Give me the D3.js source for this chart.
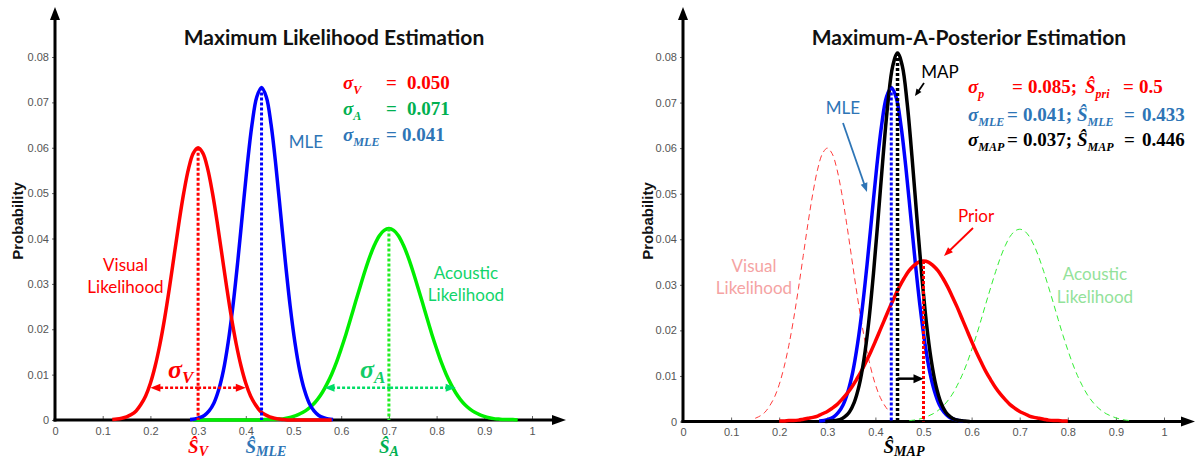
<!DOCTYPE html>
<html>
<head>
<meta charset="utf-8">
<script src="https://cdn.jsdelivr.net/npm/d3@7"></script>
<style>
  body { margin: 0; background: #fff; }
  svg { display: block; }
</style>
</head>
<body>
<svg id="chart" width="1198" height="459"></svg>
<script>
// ---------- axes ----------
const xTickValues = [0, 0.1, 0.2, 0.3, 0.4, 0.5, 0.6, 0.7, 0.8, 0.9, 1];
const xTickLabels = ["0", "0.1", "0.2", "0.3", "0.4", "0.5", "0.6", "0.7", "0.8", "0.9", "1"];
const yTickValues = [0, 0.01, 0.02, 0.03, 0.04, 0.05, 0.06, 0.07, 0.08];
const yTickLabels = ["0", "0.01", "0.02", "0.03", "0.04", "0.05", "0.06", "0.07", "0.08"];

// ---------- distributions, probability per 0.01 step of the stimulus ----------
const SAMPLE_STEP = 0.01;

// visual likelihood, 0.12 … 0.58
const visualStart = 0.12;
const visualProb = [
  0.0001, 0.0002, 0.0004, 0.0007, 0.0012, 0.0020, 0.0034, 0.0053, 0.0081, 0.0119,
  0.0167, 0.0225, 0.0292, 0.0364, 0.0436, 0.0501, 0.0554, 0.0588, 0.0600, 0.0588,
  0.0554, 0.0501, 0.0436, 0.0364, 0.0292, 0.0225, 0.0167, 0.0119, 0.0081, 0.0053,
  0.0034, 0.0020, 0.0012, 0.0007, 0.0004, 0.0002, 0.0001, 0, 0, 0,
  0, 0, 0, 0, 0, 0, 0
];

// acoustic likelihood, 0.29 … 0.97
const acousticStart = 0.29;
const acousticProb = [
  0, 0, 0, 0, 0, 0, 0, 0, 0, 0,
  0, 0, 0, 0, 0, 0.0001, 0.0001, 0.0001, 0.0002, 0.0003,
  0.0005, 0.0008, 0.0012, 0.0017, 0.0024, 0.0033, 0.0045, 0.0060, 0.0079, 0.0101,
  0.0127, 0.0157, 0.0189, 0.0224, 0.0260, 0.0295, 0.0329, 0.0360, 0.0386, 0.0406,
  0.0418, 0.0422, 0.0418, 0.0406, 0.0386, 0.0360, 0.0329, 0.0295, 0.0260, 0.0224,
  0.0189, 0.0157, 0.0127, 0.0101, 0.0079, 0.0060, 0.0045, 0.0033, 0.0024, 0.0017,
  0.0012, 0.0008, 0.0005, 0.0003, 0.0002, 0.0001, 0.0001, 0.0001, 0
];

// maximum-likelihood estimate, 0.283 … 0.583
const mleStart = 0.283;
const mleProb = [
  0.0001, 0.0002, 0.0005, 0.0010, 0.0020, 0.0037, 0.0066, 0.0109, 0.0171, 0.0251,
  0.0348, 0.0455, 0.0561, 0.0651, 0.0712, 0.0733, 0.0712, 0.0651, 0.0561, 0.0455,
  0.0348, 0.0251, 0.0171, 0.0109, 0.0066, 0.0037, 0.0020, 0.0010, 0.0005, 0.0002,
  0.0001
];

// maximum-a-posteriori estimate, 0.296 … 0.596
const mapStart = 0.296;
const mapProb = [
  0.0000, 0.0001, 0.0002, 0.0004, 0.0010, 0.0021, 0.0042, 0.0078, 0.0135, 0.0217,
  0.0325, 0.0451, 0.0582, 0.0699, 0.0780, 0.0809, 0.0780, 0.0699, 0.0582, 0.0451,
  0.0325, 0.0217, 0.0135, 0.0078, 0.0042, 0.0021, 0.0010, 0.0004, 0.0002, 0.0001,
  0.0000
];

// prior, 0.20 … 0.80
const priorStart = 0.20;
const priorProb = [
  0.0001, 0.0001, 0.0002, 0.0002, 0.0003, 0.0005, 0.0007, 0.0009, 0.0012, 0.0017,
  0.0022, 0.0029, 0.0037, 0.0048, 0.0060, 0.0074, 0.0091, 0.0109, 0.0130, 0.0152,
  0.0176, 0.0201, 0.0226, 0.0251, 0.0274, 0.0296, 0.0315, 0.0331, 0.0342, 0.0350,
  0.0352, 0.0350, 0.0342, 0.0331, 0.0315, 0.0296, 0.0274, 0.0251, 0.0226, 0.0201,
  0.0176, 0.0152, 0.0130, 0.0109, 0.0091, 0.0074, 0.0060, 0.0048, 0.0037, 0.0029,
  0.0022, 0.0017, 0.0012, 0.0009, 0.0007, 0.0005, 0.0003, 0.0002, 0.0002, 0.0001,
  0.0001
];

// part of each likelihood drawn faintly in the posterior panel
const visualFaintRange = [0.15, 0.43];
const acousticFaintRange = [0.47, 0.93];

// estimates
const estVisual = 0.3;
const estAcoustic = 0.7;
const estMLE = 0.433;
const estMAP = 0.446;
const estPrior = 0.5;

// width markers (stimulus span and height)
const sigmaVisualSpan = [0.2, 0.4];
const sigmaAcousticSpan = [0.565, 0.84];
const sigmaMarkerLevel = 0.0071;
const shiftLevel = 0.0094;

// parameter read-outs
const sigmaVisualText = "0.050";
const sigmaAcousticText = "0.071";
const sigmaMLEText = "0.041";
const sigmaPriorText = "0.085";
const sigmaMAPText = "0.037";
const priorMeanText = "0.5";
const mleMeanText = "0.433";
const mapMeanText = "0.446";

// ---------- drawing ----------
const svg = d3.select("#chart");
const FONT_UI = "'Liberation Sans', Arial, sans-serif";
const FONT_LABEL = "Lato, 'Open Sans', sans-serif";
const FONT_MATH = "'Liberation Serif', 'DejaVu Serif', serif";

const RED = "#ff0000", BLUE = "#0000ff", GREEN = "#00ee00", BLACK = "#000000";
const TXT_BLUE = "#2e75b6", TXT_GREEN = "#00b050";

function toPoints(start, values) {
  return values.map((v, i) => [+(start + i * SAMPLE_STEP).toFixed(4), v]);
}

function arrowHead(g, x1, y1, x2, y2, color, len, half) {
  const a = Math.atan2(y2 - y1, x2 - x1);
  const bx = x2 - len * Math.cos(a), by = y2 - len * Math.sin(a);
  const px = -Math.sin(a) * half, py = Math.cos(a) * half;
  g.append("path")
    .attr("d", `M${x2},${y2}L${bx + px},${by + py}L${bx - px},${by - py}Z`)
    .attr("fill", color);
}

function arrowLine(g, x1, y1, x2, y2, color, width, len, half, dash) {
  const a = Math.atan2(y2 - y1, x2 - x1);
  g.append("line")
    .attr("x1", x1).attr("y1", y1)
    .attr("x2", x2 - (len * 0.8) * Math.cos(a)).attr("y2", y2 - (len * 0.8) * Math.sin(a))
    .attr("stroke", color).attr("stroke-width", width)
    .attr("stroke-dasharray", dash || null);
  arrowHead(g, x1, y1, x2, y2, color, len, half);
}

// bold math-style text; parts may be italic and/or subscripted
function mathText(g, x, y, size, color, parts, subSize, subShift) {
  const t = g.append("text")
    .attr("x", x).attr("y", y)
    .attr("fill", color)
    .attr("font-family", FONT_MATH)
    .attr("font-weight", "bold")
    .attr("font-size", size);
  let down = false;
  const off = subShift != null ? subShift : size * 0.24;
  const ss = subSize || size * 0.64;
  parts.forEach(p => {
    const s = t.append("tspan").text(p.t);
    if (p.x != null) s.attr("x", p.x);
    if (p.it) s.attr("font-style", "italic");
    if (p.sub) {
      s.attr("font-size", ss);
      if (!down) { s.attr("dy", off); down = true; }
    } else if (down) {
      s.attr("dy", -off); down = false;
    }
  });
  return t;
}

function label(g, x, y, size, color, text, anchor) {
  return g.append("text")
    .attr("x", x).attr("y", y)
    .attr("fill", color)
    .attr("font-family", FONT_LABEL)
    .attr("font-size", size)
    .attr("text-anchor", anchor || "middle")
    .text(text);
}

function makePanel(opt) {
  const x = d3.scaleLinear().domain([0, 1]).range(opt.xRange);
  const y = d3.scaleLinear().domain([0, 0.08]).range(opt.yRange);
  const g = svg.append("g");

  // tick marks and labels
  const gx = g.append("g")
    .attr("transform", `translate(0,${y(0)})`)
    .call(d3.axisBottom(x).tickValues(xTickValues)
      .tickFormat((d, i) => xTickLabels[i])
      .tickSizeInner(-4).tickSizeOuter(0).tickPadding(7));
  const gy = g.append("g")
    .attr("transform", `translate(${x(0)},0)`)
    .call(d3.axisLeft(y).tickValues(yTickValues)
      .tickFormat((d, i) => yTickLabels[i])
      .tickSizeInner(3).tickSizeOuter(0).tickPadding(3));
  [gx, gy].forEach(a => {
    a.select(".domain").remove();
    a.selectAll(".tick line").attr("stroke", "#666");
    a.selectAll(".tick text")
      .attr("fill", "#555")
      .attr("font-family", FONT_UI)
      .attr("font-size", 11);
  });

  // thick axis lines with arrows
  const x0 = x(0), y0 = y(0);
  g.append("line").attr("x1", x0).attr("y1", y0 + 1.5).attr("x2", x0).attr("y2", opt.yTip + 10)
    .attr("stroke", BLACK).attr("stroke-width", 3);
  arrowHead(g, x0, y0, x0, opt.yTip, BLACK, 13, 5);
  g.append("line").attr("x1", x0 - 1.5).attr("y1", y0).attr("x2", opt.xTip - 10).attr("y2", y0)
    .attr("stroke", BLACK).attr("stroke-width", 3);
  arrowHead(g, x0, y0, opt.xTip, y0, BLACK, 14, 5);

  // axis title
  g.append("text")
    .attr("transform", `translate(${opt.yTitleX},${opt.yTitleY}) rotate(-90)`)
    .attr("text-anchor", "middle")
    .attr("font-family", FONT_UI)
    .attr("font-weight", "bold")
    .attr("font-size", 15)
    .attr("fill", "#111")
    .text("Probability");

  // chart title
  g.append("text")
    .attr("x", opt.titleX).attr("y", 45)
    .attr("text-anchor", "middle")
    .attr("font-family", FONT_LABEL)
    .attr("font-weight", "bold")
    .attr("font-size", 21)
    .attr("fill", "#111")
    .text(opt.title);

  const line = d3.line()
    .x(d => x(d[0]))
    .y(d => y(d[1]))
    .curve(d3.curveCatmullRom.alpha(0.5));

  return { g, x, y, line };
}

function curve(p, pts, color, width, dash) {
  p.g.append("path")
    .datum(pts)
    .attr("d", p.line)
    .attr("fill", "none")
    .attr("stroke", color)
    .attr("stroke-width", width)
    .attr("stroke-linejoin", "round")
    .attr("stroke-dasharray", dash || null);
}

function dottedDrop(p, xv, top, color, width) {
  p.g.append("line")
    .attr("x1", p.x(xv)).attr("x2", p.x(xv))
    .attr("y1", p.y(top)).attr("y2", p.y(0))
    .attr("stroke", color)
    .attr("stroke-width", width)
    .attr("stroke-dasharray", "3,2");
}

const visualPts = toPoints(visualStart, visualProb);
const acousticPts = toPoints(acousticStart, acousticProb);
const mlePts = toPoints(mleStart, mleProb);
const mapPts = toPoints(mapStart, mapProb);
const priorPts = toPoints(priorStart, priorProb);

// ===== left panel: maximum likelihood =====
const L = makePanel({
  xRange: [55, 532], yRange: [420, 57],
  xTip: 566, yTip: 7,
  yTitleX: 23, yTitleY: 221,
  titleX: 334, title: "Maximum Likelihood Estimation"
});

curve(L, acousticPts, GREEN, 3.5);
curve(L, mlePts, BLUE, 3.5);
curve(L, visualPts, RED, 3.5);

dottedDrop(L, estVisual, d3.max(visualProb), RED, 3);
dottedDrop(L, estMLE, d3.max(mleProb), BLUE, 3);
dottedDrop(L, estAcoustic, d3.max(acousticProb), "#22ee22", 3);

// width markers
{
  const yy = L.y(sigmaMarkerLevel);
  const a = L.x(sigmaVisualSpan[0]), b = L.x(sigmaVisualSpan[1]), m = (a + b) / 2;
  arrowLine(L.g, m, yy, a, yy, RED, 2.5, 10, 4, "3,2");
  arrowLine(L.g, m, yy, b, yy, RED, 2.5, 10, 4, "3,2");
  const c = L.x(sigmaAcousticSpan[0]), d = L.x(sigmaAcousticSpan[1]), n = (c + d) / 2;
  arrowLine(L.g, n, yy, c, yy, "#00dd66", 2.5, 10, 4, "3,2");
  arrowLine(L.g, n, yy, d, yy, "#00dd66", 2.5, 10, 4, "3,2");
}
mathText(L.g, 168, 378, 26, RED, [{ t: "σ", it: true }, { t: "V", it: true, sub: true }], 17, 5);
mathText(L.g, 360, 378, 26, "#11cc66", [{ t: "σ", it: true }, { t: "A", it: true, sub: true }], 17, 5);

// curve names
label(L.g, 306, 148, 17, TXT_BLUE, "MLE");
label(L.g, 125.5, 271, 17, RED, "Visual");
label(L.g, 125.5, 293, 17, RED, "Likelihood");
label(L.g, 466, 279, 17, "#12d46a", "Acoustic");
label(L.g, 466, 301, 17, "#12d46a", "Likelihood");

// estimates under the axis
mathText(L.g, L.x(estVisual) - 10, 453, 19, RED, [{ t: "Ŝ", it: true }, { t: "V", it: true, sub: true }], 14, 3);
mathText(L.g, L.x(estMLE) - 16, 453, 19, TXT_BLUE, [{ t: "Ŝ", it: true }, { t: "MLE", it: true, sub: true }], 14, 3);
mathText(L.g, L.x(estAcoustic) - 10, 453, 19, TXT_GREEN, [{ t: "Ŝ", it: true }, { t: "A", it: true, sub: true }], 14, 3);

// parameter read-outs
mathText(L.g, 343, 89, 19, RED, [{ t: "σ", it: true }, { t: "V", it: true, sub: true }, { t: "=", x: 386 }, { t: sigmaVisualText, x: 407 }]);
mathText(L.g, 343, 115, 19, TXT_GREEN, [{ t: "σ", it: true }, { t: "A", it: true, sub: true }, { t: "=", x: 386 }, { t: sigmaAcousticText, x: 407 }]);
mathText(L.g, 343, 141, 19, TXT_BLUE, [{ t: "σ", it: true }, { t: "MLE", it: true, sub: true }, { t: "=", x: 386 }, { t: sigmaMLEText, x: 402 }]);

// ===== right panel: maximum a posteriori =====
const R = makePanel({
  xRange: [683, 1164], yRange: [421.5, 57],
  xTip: 1195, yTip: 7,
  yTitleX: 653, yTitleY: 221,
  titleX: 969, title: "Maximum-A-Posterior Estimation"
});

curve(R, visualPts.filter(d => d[0] >= visualFaintRange[0] - 1e-9 && d[0] <= visualFaintRange[1] + 1e-9), "#ff3b3b", 1, "6,4");
curve(R, acousticPts.filter(d => d[0] >= acousticFaintRange[0] - 1e-9 && d[0] <= acousticFaintRange[1] + 1e-9), "#33ee33", 1, "6,4");
curve(R, mlePts, BLUE, 3.5);
curve(R, priorPts, RED, 3.5);
curve(R, mapPts, BLACK, 3.5);

dottedDrop(R, estMLE, d3.max(mleProb), BLUE, 3);
dottedDrop(R, estMAP, d3.max(mapProb), BLACK, 3.5);
dottedDrop(R, estPrior, d3.max(priorProb), RED, 3);

// shift of the estimate towards the prior
arrowLine(R.g, R.x(estMAP), R.y(shiftLevel), R.x(estPrior), R.y(shiftLevel), BLACK, 2.5, 10, 4.5);

// curve names with pointers
label(R.g, 843, 114, 17, TXT_BLUE, "MLE");
arrowLine(R.g, 843, 123, 867, 192, TXT_BLUE, 1.8, 9, 3.5);
label(R.g, 940, 78, 17, BLACK, "MAP");
arrowLine(R.g, 924, 83, 915, 96, BLACK, 1.8, 7, 3);
label(R.g, 976, 222, 17, RED, "Prior");
arrowLine(R.g, 973, 228, 944, 256, RED, 1.8, 9, 3.5);
label(R.g, 754, 272, 17, "#f5a3a3", "Visual");
label(R.g, 754, 294, 17, "#f5a3a3", "Likelihood");
label(R.g, 1095, 280, 17, "#93e29a", "Acoustic");
label(R.g, 1095, 303, 17, "#93e29a", "Likelihood");

mathText(R.g, R.x(estMAP) - 14, 453, 19, BLACK, [{ t: "Ŝ", it: true }, { t: "MAP", it: true, sub: true }], 14, 3);

// parameter read-outs
mathText(R.g, 968, 93, 19, RED, [
  { t: "σ", it: true }, { t: "p", it: true, sub: true },
  { t: "=", x: 1012 }, { t: sigmaPriorText + ";", x: 1028 },
  { t: "Ŝ", it: true, x: 1085 }, { t: "pri", it: true, sub: true },
  { t: "=", x: 1123 }, { t: priorMeanText, x: 1139 }
], 12);
mathText(R.g, 968, 121, 19, TXT_BLUE, [
  { t: "σ", it: true }, { t: "MLE", it: true, sub: true },
  { t: "=", x: 1007 }, { t: sigmaMLEText + ";", x: 1023 },
  { t: "Ŝ", it: true, x: 1077 }, { t: "MLE", it: true, sub: true },
  { t: "=", x: 1124 }, { t: mleMeanText, x: 1142 }
], 12);
mathText(R.g, 968, 146, 19, BLACK, [
  { t: "σ", it: true }, { t: "MAP", it: true, sub: true },
  { t: "=", x: 1007 }, { t: sigmaMAPText + ";", x: 1023 },
  { t: "Ŝ", it: true, x: 1077 }, { t: "MAP", it: true, sub: true },
  { t: "=", x: 1124 }, { t: mapMeanText, x: 1142 }
], 12);
</script>
</body>
</html>
